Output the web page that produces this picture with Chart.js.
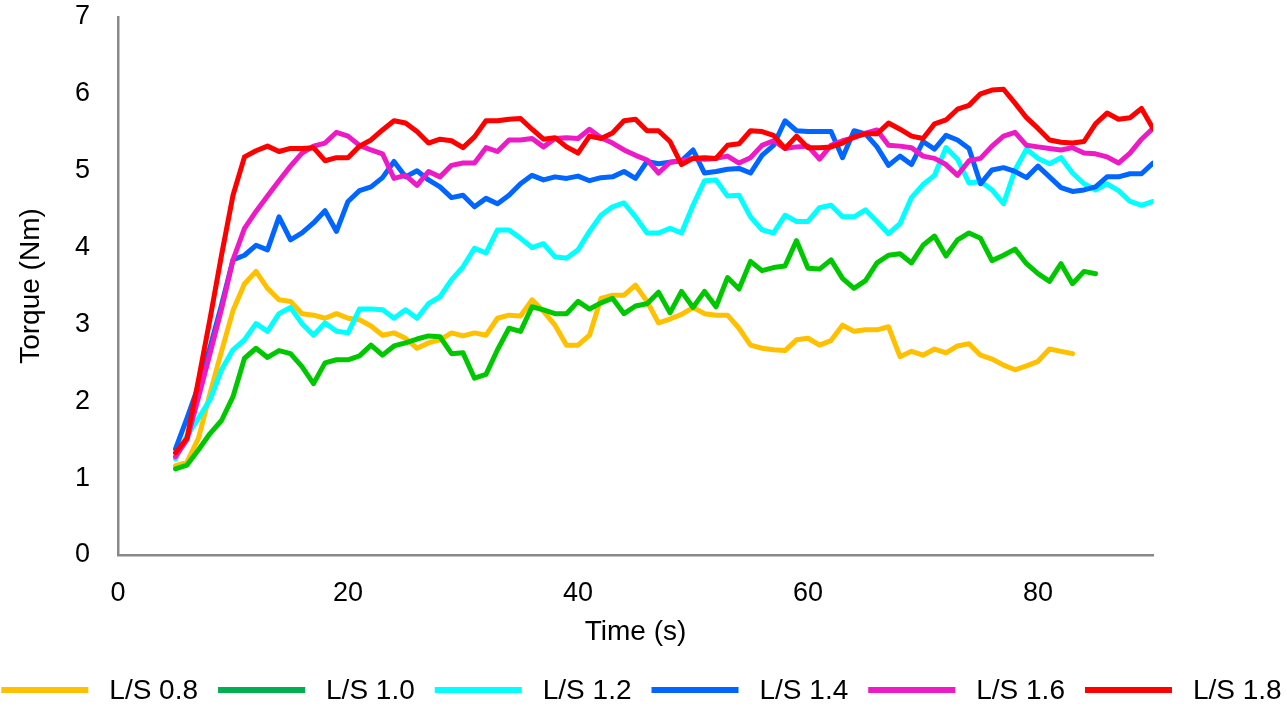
<!DOCTYPE html>
<html>
<head>
<meta charset="utf-8">
<title>Torque vs Time</title>
<script src="https://cdn.jsdelivr.net/npm/chart.js@4/dist/chart.umd.min.js"></script>
<style>
  html, body { margin: 0; padding: 0; background: #ffffff; }
  #wrap { width: 1287px; height: 720px; }
</style>
</head>
<body>
<div id="wrap"><canvas id="chart" width="1287" height="720"></canvas></div>
<script>
// Sampling instants (s)
const times = [5, 6, 7, 8, 9, 10, 11, 12, 13, 14, 15, 16, 17, 18, 19, 20, 21, 22, 23, 24,
  25, 26, 27, 28, 29, 30, 31, 32, 33, 34, 35, 36, 37, 38, 39, 40, 41, 42, 43, 44,
  45, 46, 47, 48, 49, 50, 51, 52, 53, 54, 55, 56, 57, 58, 59, 60, 61, 62, 63, 64,
  65, 66, 67, 68, 69, 70, 71, 72, 73, 74, 75, 76, 77, 78, 79, 80, 81, 82, 83, 84,
  85, 86, 87, 88, 89, 90];

const seriesLabels = ['L/S 0.8', 'L/S 1.0', 'L/S 1.2', 'L/S 1.4', 'L/S 1.6', 'L/S 1.8'];

// Torque (Nm), one value per second starting at 5 s
const torqueLS08 = [1.16, 1.21, 1.52, 2.10, 2.65, 3.18, 3.53, 3.69, 3.47, 3.32,
  3.30, 3.14, 3.12, 3.08, 3.14, 3.08, 3.06, 2.98, 2.86, 2.89,
  2.82, 2.69, 2.76, 2.80, 2.89, 2.85, 2.89, 2.86, 3.08, 3.12,
  3.11, 3.32, 3.17, 2.99, 2.73, 2.73, 2.86, 3.34, 3.38, 3.38,
  3.51, 3.30, 3.02, 3.07, 3.13, 3.22, 3.14, 3.12, 3.12, 2.95,
  2.73, 2.69, 2.67, 2.66, 2.80, 2.82, 2.73, 2.79, 2.99, 2.91,
  2.93, 2.93, 2.97, 2.58, 2.65, 2.60, 2.68, 2.63, 2.72, 2.75,
  2.60, 2.55, 2.47, 2.41, 2.46, 2.52, 2.68, 2.65, 2.62];

const torqueLS10 = [1.12, 1.17, 1.37, 1.58, 1.75, 2.06, 2.56, 2.69, 2.57, 2.66,
  2.62, 2.45, 2.23, 2.50, 2.54, 2.54, 2.59, 2.73, 2.60, 2.72,
  2.76, 2.81, 2.85, 2.84, 2.62, 2.63, 2.30, 2.35, 2.67, 2.95,
  2.91, 3.23, 3.19, 3.14, 3.14, 3.30, 3.20, 3.28, 3.34, 3.14,
  3.24, 3.27, 3.42, 3.15, 3.43, 3.22, 3.43, 3.23, 3.61, 3.46,
  3.82, 3.70, 3.74, 3.76, 4.09, 3.73, 3.72, 3.84, 3.60, 3.47,
  3.57, 3.80, 3.90, 3.92, 3.80, 4.03, 4.15, 3.89, 4.10, 4.19,
  4.12, 3.83, 3.90, 3.98, 3.79, 3.66, 3.56, 3.79, 3.53, 3.69,
  3.66];

const torqueLS12 = [1.25, 1.55, 1.78, 2.02, 2.41, 2.67, 2.80, 3.01, 2.91, 3.14,
  3.22, 3.01, 2.86, 3.02, 2.91, 2.89, 3.20, 3.20, 3.19, 3.08,
  3.19, 3.08, 3.27, 3.36, 3.58, 3.75, 3.99, 3.93, 4.23, 4.23,
  4.12, 4.00, 4.05, 3.88, 3.86, 3.97, 4.21, 4.42, 4.53, 4.58,
  4.40, 4.19, 4.19, 4.25, 4.19, 4.55, 4.87, 4.88, 4.67, 4.68,
  4.40, 4.23, 4.19, 4.42, 4.34, 4.34, 4.52, 4.55, 4.40, 4.40,
  4.49, 4.34, 4.18, 4.31, 4.65, 4.82, 4.94, 5.30, 5.15, 4.84,
  4.86, 4.75, 4.57, 5.01, 5.28, 5.16, 5.09, 5.17, 4.97, 4.83,
  4.75, 4.83, 4.74, 4.60, 4.55, 4.60];

const torqueLS14 = [1.38, 1.78, 2.20, 2.70, 3.25, 3.84, 3.90, 4.03, 3.97, 4.40,
  4.10, 4.19, 4.32, 4.48, 4.21, 4.60, 4.74, 4.79, 4.91, 5.12,
  4.92, 5.00, 4.88, 4.79, 4.65, 4.68, 4.53, 4.64, 4.57, 4.68,
  4.83, 4.94, 4.88, 4.92, 4.90, 4.93, 4.87, 4.91, 4.92, 4.99,
  4.90, 5.12, 5.09, 5.11, 5.13, 5.27, 4.97, 4.99, 5.02, 5.03,
  4.97, 5.20, 5.33, 5.65, 5.52, 5.51, 5.51, 5.51, 5.17, 5.52,
  5.48, 5.31, 5.07, 5.19, 5.08, 5.38, 5.28, 5.46, 5.40, 5.29,
  4.83, 5.01, 5.04, 4.99, 4.91, 5.06, 4.92, 4.78, 4.73, 4.75,
  4.79, 4.92, 4.92, 4.96, 4.96, 5.10];

const torqueLS16 = [1.28, 1.50, 2.05, 2.62, 3.20, 3.84, 4.25, 4.47, 4.67, 4.87,
  5.06, 5.23, 5.32, 5.36, 5.50, 5.45, 5.33, 5.27, 5.22, 4.90,
  4.94, 4.81, 4.99, 4.92, 5.07, 5.10, 5.10, 5.30, 5.25, 5.40,
  5.40, 5.42, 5.31, 5.42, 5.43, 5.42, 5.54, 5.43, 5.36, 5.27,
  5.20, 5.14, 4.97, 5.11, 5.13, 5.16, 5.15, 5.16, 5.19, 5.10,
  5.17, 5.33, 5.39, 5.29, 5.31, 5.32, 5.15, 5.33, 5.39, 5.43,
  5.49, 5.53, 5.33, 5.32, 5.30, 5.19, 5.16, 5.08, 4.94, 5.13,
  5.16, 5.32, 5.45, 5.50, 5.33, 5.31, 5.29, 5.27, 5.30, 5.23,
  5.22, 5.18, 5.10, 5.23, 5.41, 5.55];

const torqueLS18 = [1.33, 1.52, 2.28, 3.07, 3.90, 4.68, 5.18, 5.26, 5.32, 5.25,
  5.29, 5.29, 5.30, 5.13, 5.17, 5.17, 5.32, 5.40, 5.53, 5.65,
  5.62, 5.51, 5.36, 5.41, 5.39, 5.30, 5.44, 5.65, 5.65, 5.67,
  5.68, 5.54, 5.41, 5.43, 5.31, 5.23, 5.45, 5.42, 5.49, 5.65,
  5.67, 5.52, 5.52, 5.38, 5.08, 5.16, 5.17, 5.16, 5.33, 5.35,
  5.52, 5.51, 5.46, 5.29, 5.45, 5.30, 5.30, 5.31, 5.36, 5.44,
  5.48, 5.48, 5.62, 5.54, 5.45, 5.42, 5.61, 5.66, 5.80, 5.85,
  6.00, 6.05, 6.06, 5.88, 5.69, 5.55, 5.40, 5.37, 5.36, 5.38,
  5.61, 5.75, 5.67, 5.69, 5.81, 5.55];

const xTicks = [0, 20, 40, 60, 80];
const yTicks = [0, 1, 2, 3, 4, 5, 6, 7];

const lineColors = ['#FFC000', '#00C800', '#00FFFF', '#0066FF', '#EE1AC6', '#FF0000'];
const keyColors  = ['#FFC000', '#00B050', '#00FFFF', '#0066FF', '#EE1AC6', '#FF0000'];

const FONT = '"Liberation Sans", Arial, Helvetica, sans-serif';

function toPoints(values) {
  return values.map((v, i) => ({ x: times[i], y: v }));
}

const allSeries = [torqueLS08, torqueLS10, torqueLS12, torqueLS14, torqueLS16, torqueLS18];

const datasets = allSeries.map((vals, i) => ({
  label: seriesLabels[i],
  data: toPoints(vals),
  borderColor: lineColors[i],
  backgroundColor: lineColors[i],
  keyColor: keyColors[i],
  borderWidth: 5,
  borderJoinStyle: 'round',
  borderCapStyle: 'round',
  pointRadius: 0,
  pointHoverRadius: 0,
  tension: 0,
  fill: false,
  order: allSeries.length - i
}));

// Single-row legend under the axis title, centred on the canvas
const rowLegend = {
  id: 'rowLegend',
  afterDraw(chart) {
    const ctx = chart.ctx;
    const swatch = 87, textGap = 21, itemGap = 20, y = 690;
    ctx.save();
    ctx.font = '28px ' + FONT;
    const items = chart.data.datasets.map(ds => ({
      label: ds.label, color: ds.keyColor, w: ctx.measureText(ds.label).width
    }));
    const total = items.reduce((s, it) => s + swatch + textGap + it.w, 0) + itemGap * (items.length - 1);
    let x = chart.width / 2 - 2 - total / 2;
    ctx.textBaseline = 'middle';
    ctx.textAlign = 'left';
    items.forEach(it => {
      ctx.strokeStyle = it.color;
      ctx.lineWidth = 6;
      ctx.lineCap = 'butt';
      ctx.beginPath();
      ctx.moveTo(x, y);
      ctx.lineTo(x + swatch, y);
      ctx.stroke();
      ctx.fillStyle = '#000000';
      ctx.fillText(it.label, x + swatch + textGap, y + 1);
      x += swatch + textGap + it.w + itemGap;
    });
    ctx.restore();
  }
};

new Chart(document.getElementById('chart'), {
  type: 'line',
  data: { datasets },
  plugins: [rowLegend],
  options: {
    responsive: false,
    animation: false,
    events: [],
    layout: { padding: { top: 17, right: 134, bottom: 65, left: 0 } },
    plugins: {
      legend: { display: false },
      tooltip: { enabled: false }
    },
    scales: {
      x: {
        type: 'linear',
        min: 0,
        max: 90,
        afterBuildTicks: s => { s.ticks = xTicks.map(v => ({ value: v })); },
        afterFit: s => { s.height = 100; s.paddingLeft = 0; s.paddingRight = 0; },
        grid: { display: false, drawTicks: false },
        border: { display: true, color: '#898989', width: 2.5 },
        ticks: { color: '#000000', font: { family: FONT, size: 27 }, padding: 22, maxRotation: 0 },
        title: {
          display: true, text: 'Time (s)', color: '#000000',
          font: { family: FONT, size: 28 }, padding: { top: 0, bottom: 6 }
        }
      },
      y: {
        type: 'linear',
        min: 0,
        max: 7,
        afterBuildTicks: s => { s.ticks = yTicks.map(v => ({ value: v })); },
        afterFit: s => { s.width = 118; s.paddingTop = 0; s.paddingBottom = 0; },
        grid: { display: false, drawTicks: false },
        border: { display: true, color: '#898989', width: 2.5 },
        ticks: { color: '#000000', font: { family: FONT, size: 27 }, padding: 28 },
        title: {
          display: true, text: 'Torque (Nm)', color: '#000000',
          font: { family: FONT, size: 28 }, padding: { top: 14, bottom: 0 }
        }
      }
    }
  }
});
</script>
</body>
</html>
